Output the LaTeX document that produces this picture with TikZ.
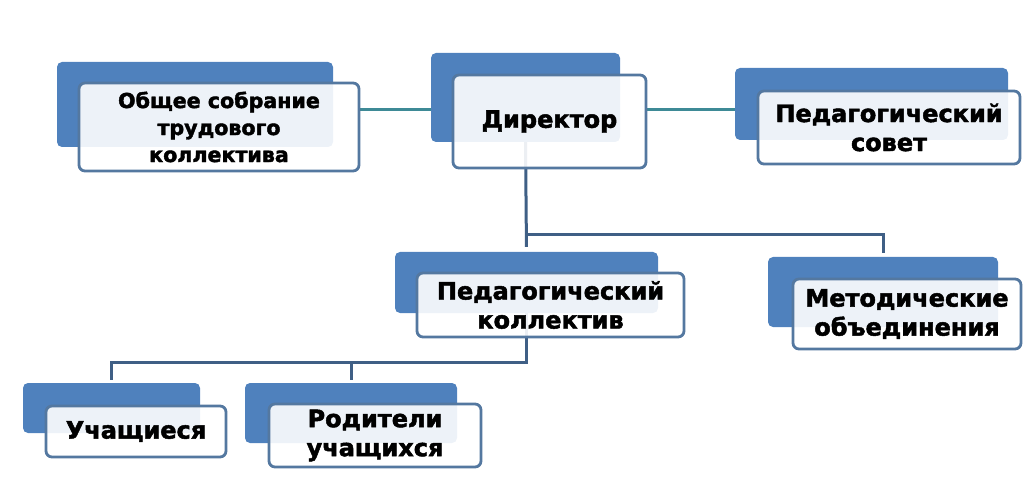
\documentclass[tikz,border=0pt]{standalone}
\usepackage{fontspec}
\setmainfont{DejaVu Sans}[BoldFeatures={FakeBold=2}]
\usetikzlibrary{positioning, backgrounds}

\definecolor{backblue}{HTML}{4F81BD}
\definecolor{frameblue}{HTML}{5478A0}
\definecolor{tealline}{HTML}{3E8A96}
\definecolor{slateline}{HTML}{3F5F85}

\begin{document}
\begin{tikzpicture}[x=1pt, y=-1pt,
    back/.style={rectangle, fill=backblue, rounded corners=5pt, inner sep=0pt},
    front/.style={rectangle, draw=frameblue, line width=2.8pt, fill=white, fill opacity=0.9, text opacity=1,
        rounded corners=6pt, inner sep=0pt, align=center, font=\bfseries\fontsize{24}{29}\selectfont},
    tlink/.style={draw=tealline, line width=3pt},
    slink/.style={draw=slateline, line width=3pt}]
    \useasboundingbox (0,0) rectangle (1024,502);

    \node[back, minimum width=276pt, minimum height=85pt] (sobrback) at (195,104.5) {};
    \node[front, minimum width=280pt, minimum height=88pt, font=\bfseries\fontsize{20.6}{27}\selectfont] (sobr) at (219,127) {Общее собрание\\трудового\\коллектива};

    \node[back, minimum width=189pt, minimum height=89pt] (dirback) at (525.5,97.5) {};
    \node[front, minimum width=193pt, minimum height=93pt] (dir) at (549.5,121.5) {Директор};

    \node[back, minimum width=273pt, minimum height=72pt] (sovetback) at (871.5,104) {};
    \node[front, minimum width=262pt, minimum height=73pt] (sovet) at (889,127.5) {Педагогический\\совет};

    \node[back, minimum width=263pt, minimum height=61pt] (pedback) at (526.5,282.5) {};
    \node[front, minimum width=267pt, minimum height=64pt] (ped) at (550.5,305) {Педагогический\\коллектив};

    \node[back, minimum width=230pt, minimum height=70pt] (metback) at (883,292) {};
    \node[front, minimum width=228pt, minimum height=70pt] (met) at (907,314) {Методические\\объединения};

    \node[back, minimum width=177pt, minimum height=50pt] (uchback) at (111.5,408) {};
    \node[front, minimum width=180pt, minimum height=51pt] (uch) at (136,431.5) {Учащиеся};

    \node[back, minimum width=212pt, minimum height=60pt] (rodback) at (351,413) {};
    \node[front, minimum width=212pt, minimum height=63pt] (rod) at (375,435.5) {Родители\\учащихся};

    % connectors
    \coordinate (l1) at ([yshift=17pt]sobr.east);
    \coordinate (r1) at ([yshift=11.5pt]dir.east);
    \coordinate (br) at ([yshift=-92pt]dirback.south);
    \coordinate (bl) at ([yshift=-49pt]pedback.south);
    \begin{scope}[on background layer]
        \draw[tlink] (l1) -- (l1 -| dirback.west);
        \draw[tlink] (r1) -- (r1 -| sovetback.west);
        \draw[slink, shorten >=5pt] (dirback.south) -- (pedback.north);
        \draw[slink, shorten >=4pt] (br) -| (metback.north);
        \draw[slink, shorten >=3pt] (pedback.south) -- (bl) -| (uchback.north);
        \draw[slink, shorten >=3pt] (bl) -| (rodback.north);
    \end{scope}
\end{tikzpicture}
\end{document}
